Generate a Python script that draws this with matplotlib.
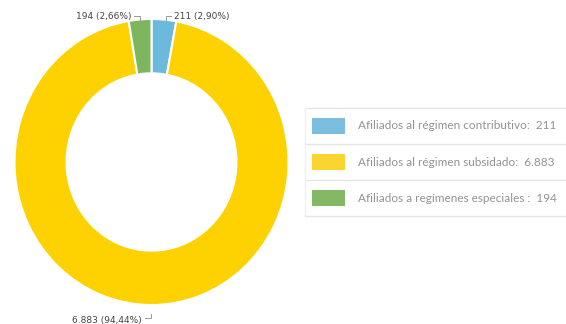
import matplotlib
matplotlib.use('Agg')
import matplotlib.pyplot as plt
from matplotlib.patches import Rectangle

categories = ['Afiliados al régimen contributivo', 'Afiliados al régimen subsidado',
              'Afiliados a regímenes especiales ']
values = [211, 6883, 194]
value_labels = ['211', '6.883', '194']
pct_labels = ['2,90%', '94,44%', '2,66%']
colors = ['#6CB9DE', '#FDD200', '#7DB65F']
legend_colors = ['#7BBEE0', '#FBD52E', '#84B865']

W, H = 566, 324
fig = plt.figure(figsize=(W / 100, H / 100), dpi=100)

# donut (slightly squashed horizontally, like the original)
cx, cy, rx, ry = 151.5, 162, 137, 143
ax = fig.add_axes([(cx - rx) / W, (H - cy - ry) / H, 2 * rx / W, 2 * ry / H])
wedges, _ = ax.pie(values, colors=colors, startangle=90, counterclock=False,
                   radius=1, wedgeprops=dict(width=0.38, edgecolor='white', linewidth=1.5))
ax.set_xlim(-1, 1)
ax.set_ylim(-1, 1)
ax.set_aspect('auto')
ax.axis('off')

lab_font = dict(family='DejaVu Sans', size=6.5, color='#444444')
line_kw = dict(color='#999999', lw=0.7, transform=fig.transFigure, clip_on=False)

def fx(x):
    return x / W

def fy(y):
    return 1 - y / H

# 211 label (right of top)
fig.text(fx(174), fy(17), '%s (%s)' % (value_labels[0], pct_labels[0]), ha='left', va='center', **lab_font)
fig.add_artist(plt.Line2D([fx(166), fx(166), fx(171)], [fy(20), fy(16), fy(16)], **line_kw))
# 194 label (left of top)
fig.text(fx(131), fy(17), '%s (%s)' % (value_labels[2], pct_labels[2]), ha='right', va='center', **lab_font)
fig.add_artist(plt.Line2D([fx(134), fx(140), fx(140)], [fy(16), fy(16), fy(20)], **line_kw))
# 6.883 label (bottom)
fig.text(fx(142), fy(320), '%s (%s)' % (value_labels[1], pct_labels[1]), ha='right', va='center', **lab_font)
fig.add_artist(plt.Line2D([fx(145), fx(151), fx(151)], [fy(318), fy(318), fy(314)], **line_kw))

# legend box
lx0, lx1 = 305, 566
row_tops = [108, 144, 180, 216]
for y in row_tops:
    fig.add_artist(plt.Line2D([fx(lx0), fx(lx1)], [fy(y), fy(y)], color='#E6E6E6', lw=1.0,
                              transform=fig.transFigure))
fig.add_artist(plt.Line2D([fx(lx0), fx(lx0)], [fy(108), fy(216)], color='#F0F0F0', lw=1.0,
                          transform=fig.transFigure))
for i, (cat, val) in enumerate(zip(categories, value_labels)):
    ymid = (row_tops[i] + row_tops[i + 1]) / 2
    fig.add_artist(Rectangle((fx(312), fy(ymid + 8)), 33 / W, 16 / H, facecolor=legend_colors[i],
                             edgecolor='none', transform=fig.transFigure))
    fig.text(fx(358), fy(ymid), '%s:  %s' % (cat, val), ha='left', va='center',
             family='Lato', size=8.5, color='#939393')

fig.savefig('out.png', dpi=100)
